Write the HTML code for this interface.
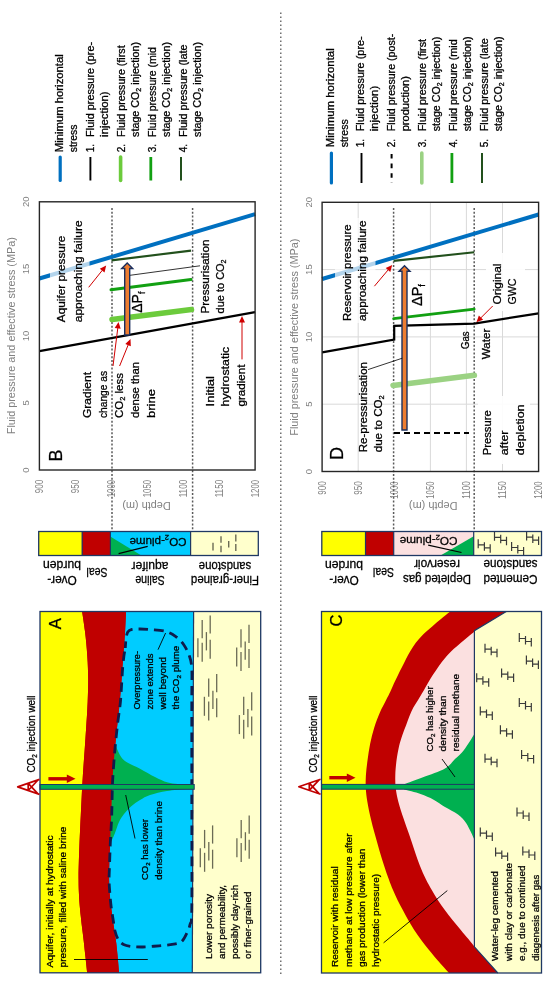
<!DOCTYPE html>
<html><head><meta charset="utf-8"><title>Fluid pressure figure</title>
<style>
html,body{margin:0;padding:0;background:#fff;}
body{width:550px;height:985px;overflow:hidden;}
svg{display:block;}
text{font-family:"Liberation Sans", "DejaVu Sans", sans-serif;stroke-width:0.28px;}
</style></head>
<body>
<svg width="550" height="985" viewBox="0 0 550 985">
<rect width="550" height="985" fill="#fff"/>
<line x1="280.8" y1="12.4" x2="280.8" y2="975.0" stroke="#5a5a5a" stroke-width="1.3" stroke-dasharray="1.6,2.4"/>
<line x1="60.2" y1="157.0" x2="60.2" y2="180.5" stroke="#0070C0" stroke-width="3.2" stroke-linecap="round"/>
<text transform="translate(62.5,152.2) rotate(-90)" font-size="10" fill="#000" stroke="#000" text-anchor="start" textLength="98.0" lengthAdjust="spacingAndGlyphs">Minimum horizontal</text>
<text transform="translate(76.7,152.2) rotate(-90)" font-size="10" fill="#000" stroke="#000" text-anchor="start" textLength="27.5" lengthAdjust="spacingAndGlyphs">stress</text>
<line x1="90.4" y1="157.0" x2="90.4" y2="180.5" stroke="#000" stroke-width="1.9"/>
<text transform="translate(93.6,152.2) rotate(-90)" font-size="10" fill="#000" stroke="#000" text-anchor="start">1.</text>
<text transform="translate(93.6,136.9) rotate(-90)" font-size="10" fill="#000" stroke="#000" text-anchor="start" textLength="95.0" lengthAdjust="spacingAndGlyphs">Fluid pressure (pre-</text>
<text transform="translate(107.8,136.9) rotate(-90)" font-size="10" fill="#000" stroke="#000" text-anchor="start" textLength="45.5" lengthAdjust="spacingAndGlyphs">injection)</text>
<line x1="120.6" y1="157.0" x2="120.6" y2="180.5" stroke="#6CCB3C" stroke-width="3.6" stroke-linecap="round"/>
<text transform="translate(124.7,152.2) rotate(-90)" font-size="10" fill="#000" stroke="#000" text-anchor="start">2.</text>
<text transform="translate(124.7,136.9) rotate(-90)" font-size="10" fill="#000" stroke="#000" text-anchor="start" textLength="91.5" lengthAdjust="spacingAndGlyphs">Fluid pressure (first</text>
<text transform="translate(138.9,136.9) rotate(-90)" font-size="10" fill="#000" stroke="#000" text-anchor="start" textLength="95.0" lengthAdjust="spacingAndGlyphs">stage CO<tspan font-size="6.5" dy="2.2">2</tspan><tspan dy="-2.2">​</tspan> injection)</text>
<line x1="150.8" y1="157.0" x2="150.8" y2="180.5" stroke="#12A012" stroke-width="2.8"/>
<text transform="translate(155.8,152.2) rotate(-90)" font-size="10" fill="#000" stroke="#000" text-anchor="start">3.</text>
<text transform="translate(155.8,136.9) rotate(-90)" font-size="10" fill="#000" stroke="#000" text-anchor="start" textLength="89.8" lengthAdjust="spacingAndGlyphs">Fluid pressure (mid</text>
<text transform="translate(170.0,136.9) rotate(-90)" font-size="10" fill="#000" stroke="#000" text-anchor="start" textLength="95.0" lengthAdjust="spacingAndGlyphs">stage CO<tspan font-size="6.5" dy="2.2">2</tspan><tspan dy="-2.2">​</tspan> injection)</text>
<line x1="181.0" y1="157.0" x2="181.0" y2="180.5" stroke="#22501C" stroke-width="2.0"/>
<text transform="translate(186.9,152.2) rotate(-90)" font-size="10" fill="#000" stroke="#000" text-anchor="start">4.</text>
<text transform="translate(186.9,136.9) rotate(-90)" font-size="10" fill="#000" stroke="#000" text-anchor="start" textLength="92.4" lengthAdjust="spacingAndGlyphs">Fluid pressure (late</text>
<text transform="translate(201.1,136.9) rotate(-90)" font-size="10" fill="#000" stroke="#000" text-anchor="start" textLength="95.0" lengthAdjust="spacingAndGlyphs">stage CO<tspan font-size="6.5" dy="2.2">2</tspan><tspan dy="-2.2">​</tspan> injection)</text>
<line x1="331.4" y1="153.0" x2="331.4" y2="183.0" stroke="#0070C0" stroke-width="3.2" stroke-linecap="round"/>
<text transform="translate(333.6,147.3) rotate(-90)" font-size="10" fill="#000" stroke="#000" text-anchor="start" textLength="99.0" lengthAdjust="spacingAndGlyphs">Minimum horizontal</text>
<text transform="translate(347.5,147.3) rotate(-90)" font-size="10" fill="#000" stroke="#000" text-anchor="start" textLength="28.0" lengthAdjust="spacingAndGlyphs">stress</text>
<line x1="361.5" y1="153.0" x2="361.5" y2="183.0" stroke="#000" stroke-width="1.9"/>
<text transform="translate(364.4,147.3) rotate(-90)" font-size="10" fill="#000" stroke="#000" text-anchor="start">1.</text>
<text transform="translate(364.4,131.3) rotate(-90)" font-size="10" fill="#000" stroke="#000" text-anchor="start" textLength="95.0" lengthAdjust="spacingAndGlyphs">Fluid pressure (pre-</text>
<text transform="translate(378.3,131.3) rotate(-90)" font-size="10" fill="#000" stroke="#000" text-anchor="start" textLength="45.5" lengthAdjust="spacingAndGlyphs">injection)</text>
<line x1="391.6" y1="154.0" x2="391.6" y2="183.0" stroke="#000" stroke-width="2" stroke-dasharray="4.6,5"/>
<text transform="translate(395.2,147.3) rotate(-90)" font-size="10" fill="#000" stroke="#000" text-anchor="start">2.</text>
<text transform="translate(395.2,131.3) rotate(-90)" font-size="10" fill="#000" stroke="#000" text-anchor="start" textLength="97.5" lengthAdjust="spacingAndGlyphs">Fluid pressure (post-</text>
<text transform="translate(409.1,131.3) rotate(-90)" font-size="10" fill="#000" stroke="#000" text-anchor="start" textLength="55.2" lengthAdjust="spacingAndGlyphs">production)</text>
<line x1="421.8" y1="153.0" x2="421.8" y2="183.0" stroke="#9BD283" stroke-width="3.6" stroke-linecap="round"/>
<text transform="translate(426.0,147.3) rotate(-90)" font-size="10" fill="#000" stroke="#000" text-anchor="start">3.</text>
<text transform="translate(426.0,131.3) rotate(-90)" font-size="10" fill="#000" stroke="#000" text-anchor="start" textLength="92.4" lengthAdjust="spacingAndGlyphs">Fluid pressure (first</text>
<text transform="translate(439.9,131.3) rotate(-90)" font-size="10" fill="#000" stroke="#000" text-anchor="start" textLength="94.5" lengthAdjust="spacingAndGlyphs">stage CO<tspan font-size="6.5" dy="2.2">2</tspan><tspan dy="-2.2">​</tspan> injection)</text>
<line x1="451.9" y1="153.0" x2="451.9" y2="183.0" stroke="#12A012" stroke-width="2.8"/>
<text transform="translate(456.8,147.3) rotate(-90)" font-size="10" fill="#000" stroke="#000" text-anchor="start">4.</text>
<text transform="translate(456.8,131.3) rotate(-90)" font-size="10" fill="#000" stroke="#000" text-anchor="start" textLength="92.0" lengthAdjust="spacingAndGlyphs">Fluid pressure (mid</text>
<text transform="translate(470.7,131.3) rotate(-90)" font-size="10" fill="#000" stroke="#000" text-anchor="start" textLength="94.8" lengthAdjust="spacingAndGlyphs">stage CO<tspan font-size="6.5" dy="2.2">2</tspan><tspan dy="-2.2">​</tspan> injection)</text>
<line x1="482.0" y1="153.0" x2="482.0" y2="183.0" stroke="#22501C" stroke-width="2.0"/>
<text transform="translate(487.6,147.3) rotate(-90)" font-size="10" fill="#000" stroke="#000" text-anchor="start">5.</text>
<text transform="translate(487.6,131.3) rotate(-90)" font-size="10" fill="#000" stroke="#000" text-anchor="start" textLength="93.0" lengthAdjust="spacingAndGlyphs">Fluid pressure (late</text>
<text transform="translate(501.5,131.3) rotate(-90)" font-size="10" fill="#000" stroke="#000" text-anchor="start" textLength="94.8" lengthAdjust="spacingAndGlyphs">stage CO<tspan font-size="6.5" dy="2.2">2</tspan><tspan dy="-2.2">​</tspan> injection)</text>
<text transform="translate(29.4,470.0) rotate(-90)" font-size="9.5" fill="#808080" text-anchor="middle">0</text>
<text transform="translate(29.4,402.9) rotate(-90)" font-size="9.5" fill="#808080" text-anchor="middle">5</text>
<text transform="translate(29.4,335.9) rotate(-90)" font-size="9.5" fill="#808080" text-anchor="middle">10</text>
<text transform="translate(29.4,268.9) rotate(-90)" font-size="9.5" fill="#808080" text-anchor="middle">15</text>
<text transform="translate(29.4,201.8) rotate(-90)" font-size="9.5" fill="#808080" text-anchor="middle">20</text>
<text transform="translate(43.0,479.8) rotate(-90)" font-size="10" fill="#808080" text-anchor="end" textLength="13.4" lengthAdjust="spacingAndGlyphs">900</text>
<text transform="translate(78.9,479.8) rotate(-90)" font-size="10" fill="#808080" text-anchor="end" textLength="13.4" lengthAdjust="spacingAndGlyphs">950</text>
<text transform="translate(114.9,479.8) rotate(-90)" font-size="10" fill="#808080" text-anchor="end" textLength="17.5" lengthAdjust="spacingAndGlyphs">1000</text>
<text transform="translate(150.8,479.8) rotate(-90)" font-size="10" fill="#808080" text-anchor="end" textLength="17.5" lengthAdjust="spacingAndGlyphs">1050</text>
<text transform="translate(186.8,479.8) rotate(-90)" font-size="10" fill="#808080" text-anchor="end" textLength="17.5" lengthAdjust="spacingAndGlyphs">1100</text>
<text transform="translate(222.8,479.8) rotate(-90)" font-size="10" fill="#808080" text-anchor="end" textLength="17.5" lengthAdjust="spacingAndGlyphs">1150</text>
<text transform="translate(258.7,479.8) rotate(-90)" font-size="10" fill="#808080" text-anchor="end" textLength="17.5" lengthAdjust="spacingAndGlyphs">1200</text>
<text transform="translate(15.4,434.2) rotate(-90)" font-size="11" fill="#808080" text-anchor="start" textLength="197.0" lengthAdjust="spacingAndGlyphs">Fluid pressure and effective stress (MPa)</text>
<line x1="112.0" y1="208.0" x2="112.0" y2="531.0" stroke="#5a5a5a" stroke-width="1.5" stroke-dasharray="2,1.8"/>
<line x1="192.6" y1="208.0" x2="192.6" y2="531.0" stroke="#5a5a5a" stroke-width="1.5" stroke-dasharray="2,1.8"/>
<line x1="39.4" y1="278.5" x2="255.1" y2="214.2" stroke="#0070C0" stroke-width="4"/>
<line x1="39.4" y1="351.1" x2="255.1" y2="312.1" stroke="#000" stroke-width="2.2"/>
<line x1="112.0" y1="319.6" x2="191.5" y2="309.6" stroke="#6CCB3C" stroke-width="5.5" stroke-linecap="round"/>
<line x1="111.0" y1="289.8" x2="191.0" y2="279.6" stroke="#12A012" stroke-width="3" stroke-linecap="round"/>
<line x1="111.5" y1="260.4" x2="191.0" y2="250.6" stroke="#22501C" stroke-width="2.1"/>
<line x1="130.0" y1="275.3" x2="200.0" y2="265.8" stroke="#000" stroke-width="0.8"/>
<polygon points="124.7,335.0 124.7,268.5 121.7,268.5 127.2,263.0 132.7,268.5 129.7,268.5 129.7,335.0" fill="#ED7D31" stroke="#1B2F5E" stroke-width="1.4" stroke-linejoin="miter"/>
<text transform="translate(142.2,312.8) rotate(-90)" font-size="14" fill="#000" stroke="#000" text-anchor="start">ΔP<tspan font-size="9.1" dy="3.1">f</tspan></text>
<rect x="50" y="214" width="39.5" height="110" fill="#fff" fill-opacity="0.7"/>
<text transform="translate(65.0,322.2) rotate(-90)" font-size="10.8" fill="#000" stroke="#000" text-anchor="start" textLength="86.6" lengthAdjust="spacingAndGlyphs">Aquifer pressure</text>
<text transform="translate(81.5,322.2) rotate(-90)" font-size="10.8" fill="#000" stroke="#000" text-anchor="start" textLength="101.8" lengthAdjust="spacingAndGlyphs">approaching failure</text>
<line x1="88.7" y1="287.3" x2="102.4" y2="270.2" stroke="#D00000" stroke-width="1.0"/>
<polygon points="106.2,265.5 104.5,272.4 99.8,268.7" fill="#D00000"/>
<text transform="translate(208.5,313.4) rotate(-90)" font-size="10.8" fill="#000" stroke="#000" text-anchor="start" textLength="73.8" lengthAdjust="spacingAndGlyphs">Pressurisation</text>
<text transform="translate(224.0,313.4) rotate(-90)" font-size="10.8" fill="#000" stroke="#000" text-anchor="start" textLength="54.0" lengthAdjust="spacingAndGlyphs">due to CO<tspan font-size="7.0" dy="2.4">2</tspan><tspan dy="-2.4">​</tspan></text>
<text transform="translate(91.0,418.0) rotate(-90)" font-size="10.8" fill="#000" stroke="#000" text-anchor="start" textLength="46.0" lengthAdjust="spacingAndGlyphs">Gradient</text>
<text transform="translate(107.0,418.0) rotate(-90)" font-size="10.8" fill="#000" stroke="#000" text-anchor="start" textLength="47.0" lengthAdjust="spacingAndGlyphs">change as</text>
<text transform="translate(123.0,418.0) rotate(-90)" font-size="10.8" fill="#000" stroke="#000" text-anchor="start" textLength="45.0" lengthAdjust="spacingAndGlyphs">CO<tspan font-size="7.0" dy="2.4">2</tspan><tspan dy="-2.4">​</tspan> less</text>
<text transform="translate(139.0,418.0) rotate(-90)" font-size="10.8" fill="#000" stroke="#000" text-anchor="start" textLength="56.0" lengthAdjust="spacingAndGlyphs">dense than</text>
<text transform="translate(155.0,418.0) rotate(-90)" font-size="10.8" fill="#000" stroke="#000" text-anchor="start" textLength="29.0" lengthAdjust="spacingAndGlyphs">brine</text>
<line x1="113.0" y1="366.0" x2="117.8" y2="328.0" stroke="#D00000" stroke-width="1.0"/>
<polygon points="118.5,322.0 120.7,328.8 114.7,328.1" fill="#D00000"/>
<line x1="119.6" y1="366.0" x2="128.3" y2="344.6" stroke="#D00000" stroke-width="1.0"/>
<polygon points="130.5,339.0 130.8,346.2 125.3,343.9" fill="#D00000"/>
<text transform="translate(213.5,406.5) rotate(-90)" font-size="10.8" fill="#000" stroke="#000" text-anchor="start" textLength="30.5" lengthAdjust="spacingAndGlyphs">Initial</text>
<text transform="translate(229.3,406.5) rotate(-90)" font-size="10.8" fill="#000" stroke="#000" text-anchor="start" textLength="59.8" lengthAdjust="spacingAndGlyphs">hydrostatic</text>
<text transform="translate(245.1,406.5) rotate(-90)" font-size="10.8" fill="#000" stroke="#000" text-anchor="start" textLength="42.0" lengthAdjust="spacingAndGlyphs">gradient</text>
<line x1="242.0" y1="359.4" x2="242.0" y2="322.0" stroke="#D00000" stroke-width="1.0"/>
<polygon points="242.0,316.0 245.0,322.5 239.0,322.5" fill="#D00000"/>
<rect x="39.4" y="201.8" width="215.7" height="268.2" fill="none" stroke="#262626" stroke-width="1.4"/>
<text transform="translate(62.3,461.5) rotate(-90)" font-size="18" fill="#000" stroke="#000" text-anchor="start">B</text>
<text transform="translate(146.5,502.3) rotate(180)" font-size="11" fill="#808080" text-anchor="middle" textLength="48.5" lengthAdjust="spacingAndGlyphs">Depth (m)</text>
<line x1="358.2" y1="202.3" x2="358.2" y2="471.5" stroke="#d9d9d9" stroke-width="1"/>
<line x1="430.4" y1="202.3" x2="430.4" y2="471.5" stroke="#d9d9d9" stroke-width="1"/>
<line x1="466.4" y1="202.3" x2="466.4" y2="471.5" stroke="#d9d9d9" stroke-width="1"/>
<line x1="502.5" y1="202.3" x2="502.5" y2="471.5" stroke="#d9d9d9" stroke-width="1"/>
<line x1="322.1" y1="404.2" x2="538.6" y2="404.2" stroke="#d9d9d9" stroke-width="1"/>
<line x1="322.1" y1="336.9" x2="538.6" y2="336.9" stroke="#d9d9d9" stroke-width="1"/>
<line x1="322.1" y1="269.6" x2="538.6" y2="269.6" stroke="#d9d9d9" stroke-width="1"/>
<text transform="translate(312.1,471.5) rotate(-90)" font-size="9.5" fill="#808080" text-anchor="middle">0</text>
<text transform="translate(312.1,404.2) rotate(-90)" font-size="9.5" fill="#808080" text-anchor="middle">5</text>
<text transform="translate(312.1,336.9) rotate(-90)" font-size="9.5" fill="#808080" text-anchor="middle">10</text>
<text transform="translate(312.1,269.6) rotate(-90)" font-size="9.5" fill="#808080" text-anchor="middle">15</text>
<text transform="translate(312.1,202.3) rotate(-90)" font-size="9.5" fill="#808080" text-anchor="middle">20</text>
<text transform="translate(325.7,481.3) rotate(-90)" font-size="10" fill="#808080" text-anchor="end" textLength="13.4" lengthAdjust="spacingAndGlyphs">900</text>
<text transform="translate(361.8,481.3) rotate(-90)" font-size="10" fill="#808080" text-anchor="end" textLength="13.4" lengthAdjust="spacingAndGlyphs">950</text>
<text transform="translate(397.9,481.3) rotate(-90)" font-size="10" fill="#808080" text-anchor="end" textLength="17.5" lengthAdjust="spacingAndGlyphs">1000</text>
<text transform="translate(434.0,481.3) rotate(-90)" font-size="10" fill="#808080" text-anchor="end" textLength="17.5" lengthAdjust="spacingAndGlyphs">1050</text>
<text transform="translate(470.0,481.3) rotate(-90)" font-size="10" fill="#808080" text-anchor="end" textLength="17.5" lengthAdjust="spacingAndGlyphs">1100</text>
<text transform="translate(506.1,481.3) rotate(-90)" font-size="10" fill="#808080" text-anchor="end" textLength="17.5" lengthAdjust="spacingAndGlyphs">1150</text>
<text transform="translate(542.2,481.3) rotate(-90)" font-size="10" fill="#808080" text-anchor="end" textLength="17.5" lengthAdjust="spacingAndGlyphs">1200</text>
<text transform="translate(298.1,435.7) rotate(-90)" font-size="11" fill="#808080" text-anchor="start" textLength="197.0" lengthAdjust="spacingAndGlyphs">Fluid pressure and effective stress (MPa)</text>
<rect x="486" y="253" width="39" height="58" fill="#fff" fill-opacity="0.92"/>
<rect x="478" y="396" width="52" height="68" fill="#fff" fill-opacity="0.92"/>
<line x1="393.6" y1="208.0" x2="393.6" y2="531.0" stroke="#5a5a5a" stroke-width="1.5" stroke-dasharray="2,1.8"/>
<line x1="474.2" y1="208.0" x2="474.2" y2="531.0" stroke="#5a5a5a" stroke-width="1.5" stroke-dasharray="2,1.8"/>
<line x1="322.1" y1="279.0" x2="538.6" y2="214.5" stroke="#0070C0" stroke-width="4"/>
<polyline points="322.1,352.3 394.2,339.5 394.2,325.8 474.2,323.6 538.6,313.3" fill="none" stroke="#000" stroke-width="2.2"/>
<line x1="394.0" y1="433.0" x2="469.0" y2="433.0" stroke="#000" stroke-width="2" stroke-dasharray="6,4"/>
<line x1="393.0" y1="385.5" x2="474.4" y2="375.3" stroke="#9BD283" stroke-width="5.5" stroke-linecap="round"/>
<line x1="393.6" y1="318.7" x2="474.2" y2="309.2" stroke="#12A012" stroke-width="2.7" stroke-linecap="round"/>
<line x1="393.6" y1="260.9" x2="474.2" y2="252.2" stroke="#22501C" stroke-width="2.1"/>
<polygon points="402.0,430.0 402.0,271.3 399.0,271.3 404.5,265.8 410.0,271.3 407.0,271.3 407.0,430.0" fill="#ED7D31" stroke="#1B2F5E" stroke-width="1.4" stroke-linejoin="miter"/>
<text transform="translate(421.8,306.0) rotate(-90)" font-size="14.5" fill="#000" stroke="#000" text-anchor="start">ΔP<tspan font-size="9.4" dy="3.2">f</tspan></text>
<rect x="335" y="218" width="40.5" height="105" fill="#fff" fill-opacity="0.7"/>
<text transform="translate(350.5,321.0) rotate(-90)" font-size="10.8" fill="#000" stroke="#000" text-anchor="start" textLength="96.6" lengthAdjust="spacingAndGlyphs">Reservoir pressure</text>
<text transform="translate(366.0,321.0) rotate(-90)" font-size="10.8" fill="#000" stroke="#000" text-anchor="start" textLength="100.5" lengthAdjust="spacingAndGlyphs">approaching failure</text>
<line x1="374.4" y1="286.2" x2="388.3" y2="269.7" stroke="#D00000" stroke-width="1.0"/>
<polygon points="392.2,265.1 390.3,272.0 385.7,268.1" fill="#D00000"/>
<text transform="translate(500.5,304.5) rotate(-90)" font-size="10.8" fill="#000" stroke="#000" text-anchor="start" textLength="41.0" lengthAdjust="spacingAndGlyphs">Original</text>
<text transform="translate(516.0,304.5) rotate(-90)" font-size="10.8" fill="#000" stroke="#000" text-anchor="start" textLength="26.0" lengthAdjust="spacingAndGlyphs">GWC</text>
<line x1="492.7" y1="306.0" x2="480.6" y2="318.1" stroke="#D00000" stroke-width="1.0"/>
<polygon points="476.4,322.3 478.9,315.6 483.1,319.8" fill="#D00000"/>
<text transform="translate(468.5,349.0) rotate(-90)" font-size="10.8" fill="#000" stroke="#000" text-anchor="start" textLength="17.4" lengthAdjust="spacingAndGlyphs">Gas</text>
<text transform="translate(490.4,359.3) rotate(-90)" font-size="10.8" fill="#000" stroke="#000" text-anchor="start" textLength="30.6" lengthAdjust="spacingAndGlyphs">Water</text>
<text transform="translate(366.5,452.3) rotate(-90)" font-size="10.8" fill="#000" stroke="#000" text-anchor="start" textLength="90.3" lengthAdjust="spacingAndGlyphs">Re-pressurisation</text>
<text transform="translate(382.0,452.3) rotate(-90)" font-size="10.8" fill="#000" stroke="#000" text-anchor="start" textLength="57.0" lengthAdjust="spacingAndGlyphs">due to CO<tspan font-size="7.0" dy="2.4">2</tspan><tspan dy="-2.4">​</tspan></text>
<line x1="368.0" y1="369.6" x2="402.3" y2="358.2" stroke="#000" stroke-width="0.8"/>
<text transform="translate(491.0,455.3) rotate(-90)" font-size="10.8" fill="#000" stroke="#000" text-anchor="start" textLength="45.0" lengthAdjust="spacingAndGlyphs">Pressure</text>
<text transform="translate(507.5,455.3) rotate(-90)" font-size="10.8" fill="#000" stroke="#000" text-anchor="start" textLength="24.8" lengthAdjust="spacingAndGlyphs">after</text>
<text transform="translate(524.0,455.3) rotate(-90)" font-size="10.8" fill="#000" stroke="#000" text-anchor="start" textLength="50.9" lengthAdjust="spacingAndGlyphs">depletion</text>
<rect x="322.1" y="202.3" width="216.5" height="269.2" fill="none" stroke="#262626" stroke-width="1.4"/>
<text transform="translate(342.5,460.0) rotate(-90)" font-size="18" fill="#000" stroke="#000" text-anchor="start">D</text>
<text transform="translate(433.2,502.3) rotate(180)" font-size="11" fill="#808080" text-anchor="middle" textLength="48.5" lengthAdjust="spacingAndGlyphs">Depth (m)</text>
<rect x="38.7" y="531.5" width="43.2" height="24" fill="#FFFF00"/>
<rect x="81.9" y="531.5" width="28.4" height="24" fill="#C00000"/>
<rect x="110.3" y="531.5" width="80.3" height="24" fill="#00CCFF"/>
<rect x="190.6" y="531.5" width="67.7" height="24" fill="#FFFFCC"/>
<polygon points="110.3,536.4 110.3,555.5 141.4,555.5" fill="#00B050"/>
<line x1="82.2" y1="531.5" x2="82.2" y2="555.5" stroke="#1F3864" stroke-width="1.2"/>
<line x1="110.4" y1="531.5" x2="110.4" y2="555.5" stroke="#1F3864" stroke-width="1.2"/>
<line x1="190.6" y1="531.5" x2="190.6" y2="555.5" stroke="#1F3864" stroke-width="1.2"/>
<line x1="213.0" y1="542.7" x2="213.0" y2="550.4" stroke="#6b6b55" stroke-width="1.4"/>
<line x1="221.0" y1="536.2" x2="221.0" y2="542.7" stroke="#6b6b55" stroke-width="1.4"/>
<line x1="221.0" y1="545.7" x2="221.0" y2="552.2" stroke="#6b6b55" stroke-width="1.4"/>
<line x1="228.7" y1="541.0" x2="228.7" y2="547.5" stroke="#6b6b55" stroke-width="1.4"/>
<line x1="235.8" y1="534.5" x2="235.8" y2="541.5" stroke="#6b6b55" stroke-width="1.4"/>
<line x1="235.8" y1="543.9" x2="235.8" y2="551.0" stroke="#6b6b55" stroke-width="1.4"/>
<rect x="38.7" y="531.5" width="219.6" height="24" fill="none" stroke="#1F3864" stroke-width="1.3"/>
<text transform="translate(158.0,537.5) rotate(180)" font-size="11.5" fill="#000" stroke="#000" text-anchor="middle" textLength="57.0" lengthAdjust="spacingAndGlyphs">CO<tspan font-size="7.5" dy="2.5">2</tspan><tspan dy="-2.5">​</tspan>-plume</text>
<line x1="118.6" y1="553.6" x2="147.7" y2="546.4" stroke="#000" stroke-width="1.1"/>
<text transform="translate(62.0,575.5) rotate(180)" font-size="12.5" fill="#000" stroke="#000" text-anchor="middle" textLength="29.5" lengthAdjust="spacingAndGlyphs">Over-</text>
<text transform="translate(62.0,561.0) rotate(180)" font-size="12.5" fill="#000" stroke="#000" text-anchor="middle" textLength="38.0" lengthAdjust="spacingAndGlyphs">burden</text>
<text transform="translate(97.0,568.0) rotate(180)" font-size="12.5" fill="#000" stroke="#000" text-anchor="middle" textLength="21.0" lengthAdjust="spacingAndGlyphs">Seal</text>
<text transform="translate(150.0,576.0) rotate(180)" font-size="12.5" fill="#000" stroke="#000" text-anchor="middle" textLength="29.5" lengthAdjust="spacingAndGlyphs">Saline</text>
<text transform="translate(150.0,561.5) rotate(180)" font-size="12.5" fill="#000" stroke="#000" text-anchor="middle" textLength="37.0" lengthAdjust="spacingAndGlyphs">aquifer</text>
<text transform="translate(225.0,576.0) rotate(180)" font-size="12.5" fill="#000" stroke="#000" text-anchor="middle" textLength="68.0" lengthAdjust="spacingAndGlyphs">Finer-grained</text>
<text transform="translate(225.0,561.5) rotate(180)" font-size="12.5" fill="#000" stroke="#000" text-anchor="middle" textLength="52.5" lengthAdjust="spacingAndGlyphs">sandstone</text>
<rect x="321.8" y="531.5" width="43.7" height="24" fill="#FFFF00"/>
<rect x="365.5" y="531.5" width="28.3" height="24" fill="#C00000"/>
<rect x="393.8" y="531.5" width="79.9" height="24" fill="#FBE0E0"/>
<rect x="473.7" y="531.5" width="67.8" height="24" fill="#FFFFCC"/>
<polygon points="473.7,536.3 473.7,555.5 440.5,555.5" fill="#00B050"/>
<line x1="365.5" y1="531.5" x2="365.5" y2="555.5" stroke="#1F3864" stroke-width="1.2"/>
<line x1="393.7" y1="531.5" x2="393.7" y2="555.5" stroke="#1F3864" stroke-width="1.2"/>
<line x1="473.7" y1="531.5" x2="473.7" y2="555.5" stroke="#1F3864" stroke-width="1.2"/>
<path d="M478.2,539.3v9 M478.2,544.8h6.2 M484.4,542.3v8.5 M484.4,547.8h5.8 M490.2,544.3v8.5" fill="none" stroke="#3a3a3a" stroke-width="1.2"/>
<path d="M494.5,531.8v9 M494.5,537.3h6.2 M500.7,534.8v8.5 M500.7,540.3h5.8 M506.5,536.8v8.5" fill="none" stroke="#3a3a3a" stroke-width="1.2"/>
<path d="M511.6,542.0v9 M511.6,547.5h6.2 M517.8,545.0v8.5 M517.8,550.5h5.8 M523.6,547.0v8.5" fill="none" stroke="#3a3a3a" stroke-width="1.2"/>
<path d="M526.6,531.6v9 M526.6,537.1h6.2 M532.8,534.6v8.5 M532.8,540.1h5.8 M538.6,536.6v8.5" fill="none" stroke="#3a3a3a" stroke-width="1.2"/>
<rect x="321.8" y="531.5" width="219.7" height="24" fill="none" stroke="#1F3864" stroke-width="1.3"/>
<text transform="translate(428.6,537.0) rotate(180)" font-size="11.5" fill="#000" stroke="#000" text-anchor="middle" textLength="58.0" lengthAdjust="spacingAndGlyphs">CO<tspan font-size="7.5" dy="2.5">2</tspan><tspan dy="-2.5">​</tspan>-plume</text>
<line x1="428.2" y1="545.1" x2="461.5" y2="552.5" stroke="#000" stroke-width="1.1"/>
<text transform="translate(344.0,575.5) rotate(180)" font-size="12.5" fill="#000" stroke="#000" text-anchor="middle" textLength="29.5" lengthAdjust="spacingAndGlyphs">Over-</text>
<text transform="translate(344.0,561.0) rotate(180)" font-size="12.5" fill="#000" stroke="#000" text-anchor="middle" textLength="38.0" lengthAdjust="spacingAndGlyphs">burden</text>
<text transform="translate(383.5,568.0) rotate(180)" font-size="12.5" fill="#000" stroke="#000" text-anchor="middle" textLength="21.0" lengthAdjust="spacingAndGlyphs">Seal</text>
<text transform="translate(437.0,574.5) rotate(180)" font-size="12.5" fill="#000" stroke="#000" text-anchor="middle" textLength="68.0" lengthAdjust="spacingAndGlyphs">Depleted gas</text>
<text transform="translate(437.0,560.0) rotate(180)" font-size="12.5" fill="#000" stroke="#000" text-anchor="middle" textLength="46.0" lengthAdjust="spacingAndGlyphs">reservoir</text>
<text transform="translate(510.5,574.5) rotate(180)" font-size="12.5" fill="#000" stroke="#000" text-anchor="middle" textLength="54.0" lengthAdjust="spacingAndGlyphs">Cemented</text>
<text transform="translate(510.5,560.0) rotate(180)" font-size="12.5" fill="#000" stroke="#000" text-anchor="middle" textLength="54.0" lengthAdjust="spacingAndGlyphs">sandstone</text>
<rect x="40" y="611.5" width="220.7" height="361.29999999999995" fill="#FFFF00"/>
<path d="M82.1,611.5 C82.6,614.9 84.2,624.7 85.1,632.1 C86.0,639.5 86.8,648.0 87.3,655.9 C87.9,663.8 88.1,671.9 88.2,679.5 C88.2,687.1 88.0,694.0 87.7,701.6 C87.4,709.3 86.9,717.3 86.3,725.5 C85.8,733.7 85.2,743.0 84.6,751.0 C84.0,758.9 83.5,766.3 83.0,773.2 C82.6,780.1 82.3,785.5 81.9,792.5 C81.6,799.5 81.2,807.2 80.8,815.2 C80.4,823.3 80.0,832.9 79.6,841.0 C79.3,849.0 79.0,857.0 78.8,863.5 C78.6,869.9 78.5,874.9 78.6,879.8 C78.6,884.7 78.7,888.4 78.9,892.7 C79.1,897.0 79.3,901.2 79.7,905.5 C80.0,909.7 80.5,914.0 81.0,918.2 C81.4,922.5 82.0,926.7 82.5,930.9 C83.1,935.2 83.5,939.3 84.0,943.6 C84.5,948.0 84.9,952.4 85.5,957.3 C86.0,962.2 86.9,970.2 87.2,972.8 L260.7,972.8 L260.7,611.5 Z" fill="#C00000"/>
<path d="M126.0,611.5 C125.9,614.4 125.5,623.6 125.2,628.9 C124.9,634.1 124.6,638.6 124.3,643.1 C124.0,647.6 123.6,651.6 123.3,655.9 C123.0,660.2 122.7,664.1 122.3,668.6 C122.0,673.2 121.8,677.7 121.3,683.4 C120.9,689.0 120.4,695.6 119.7,702.7 C119.0,709.8 118.0,718.0 117.2,726.0 C116.4,734.0 115.4,743.1 114.7,751.0 C114.0,758.8 113.4,766.3 112.9,773.2 C112.5,780.1 112.3,785.5 112.0,792.5 C111.7,799.5 111.5,807.2 111.2,815.2 C110.9,823.3 110.5,832.9 110.2,841.0 C109.9,849.0 109.5,857.0 109.3,863.5 C109.1,869.9 109.0,874.9 109.1,879.8 C109.1,884.7 109.3,888.4 109.6,892.7 C109.9,897.0 110.4,901.2 110.9,905.5 C111.4,909.7 112.0,914.0 112.6,918.2 C113.2,922.5 113.9,926.7 114.5,930.9 C115.1,935.2 115.8,939.3 116.3,943.6 C116.8,948.0 117.3,952.4 117.7,957.3 C118.2,962.2 118.8,970.2 119.0,972.8 L260.7,972.8 L260.7,611.5 Z" fill="#00CCFF"/>
<polygon points="193.6,611.5 260.7,611.5 260.7,972.8 192.3,972.8" fill="#FFFFCC"/>
<line x1="193.6" y1="611.5" x2="192.3" y2="972.8" stroke="#1F3864" stroke-width="1.2"/>
<path d="M115.5,745.5 C116.8,747.9 119.4,755.9 123.5,759.8 C127.6,763.7 134.8,765.8 140.0,768.7 C145.2,771.6 150.3,774.7 155.0,777.0 C159.7,779.3 162.8,781.2 168.0,782.5 C173.2,783.8 183.0,784.6 186.0,785.0 L186.0,789.0 C182.8,789.3 173.0,790.0 167.0,791.0 C161.0,792.0 154.5,793.5 150.0,795.0 C145.5,796.5 143.2,798.1 140.0,800.0 C136.8,801.9 133.7,804.2 131.0,806.5 C128.3,808.8 126.0,811.4 124.0,814.0 C122.0,816.6 120.5,818.8 119.0,822.0 C117.5,825.2 116.3,829.7 115.0,833.0 C113.7,836.3 111.7,840.5 111.0,842.0 L108,842 L108,742 Z" fill="#00B050"/>
<path d="M82.1,611.5 C82.6,614.9 84.2,624.7 85.1,632.1 C86.0,639.5 86.8,648.0 87.3,655.9 C87.9,663.8 88.1,671.9 88.2,679.5 C88.2,687.1 88.0,694.0 87.7,701.6 C87.4,709.3 86.9,717.3 86.3,725.5 C85.8,733.7 85.2,743.0 84.6,751.0 C84.0,758.9 83.5,766.3 83.0,773.2 C82.6,780.1 82.3,785.5 81.9,792.5 C81.6,799.5 81.2,807.2 80.8,815.2 C80.4,823.3 80.0,832.9 79.6,841.0 C79.3,849.0 79.0,857.0 78.8,863.5 C78.6,869.9 78.5,874.9 78.6,879.8 C78.6,884.7 78.7,888.4 78.9,892.7 C79.1,897.0 79.3,901.2 79.7,905.5 C80.0,909.7 80.5,914.0 81.0,918.2 C81.4,922.5 82.0,926.7 82.5,930.9 C83.1,935.2 83.5,939.3 84.0,943.6 C84.5,948.0 84.9,952.4 85.5,957.3 C86.0,962.2 86.9,970.2 87.2,972.8 L119.0,972.8 L117.7,957.3 L116.3,943.6 L114.5,930.9 L112.6,918.2 L110.9,905.5 L109.6,892.7 L109.1,879.8 L109.3,863.5 L110.2,841.0 L111.2,815.2 L112.0,792.5 L112.9,773.2 L114.7,751.0 L117.2,726.0 L119.7,702.7 L121.3,683.4 L122.3,668.6 L123.3,655.9 L124.3,643.1 L125.2,628.9 L126.0,611.5 Z" fill="#C00000"/>
<path d="M125.3,648.0 C125.4,646.5 125.6,641.7 126.0,639.0 C126.4,636.3 126.8,633.6 127.8,632.0 C128.8,630.4 130.0,629.9 132.0,629.4 C134.0,628.9 136.8,629.0 140.0,629.0 C143.2,629.0 146.7,629.3 151.0,629.7 C155.3,630.1 161.5,630.3 165.6,631.4 C169.7,632.5 172.5,634.1 175.5,636.3 C178.5,638.5 181.3,641.2 183.6,644.5 C185.9,647.8 188.0,651.9 189.4,656.0 C190.8,660.1 191.4,661.7 191.8,669.0 C192.2,676.3 191.8,678.2 191.8,700.0 C191.8,721.8 191.8,765.3 191.8,800.0 C191.8,834.7 192.1,887.2 191.8,908.0 C191.5,928.8 190.8,920.4 190.0,924.5 C189.2,928.6 188.3,929.9 187.0,932.7 C185.7,935.5 183.9,939.3 182.0,941.2 C180.1,943.1 179.3,943.1 175.5,943.9 C171.7,944.7 164.5,945.3 159.0,945.8 C153.5,946.3 147.3,946.9 142.7,947.0 C138.1,947.1 134.5,946.8 131.3,946.4 C128.1,946.0 125.6,945.6 123.5,944.5 C121.4,943.4 119.9,942.2 118.5,940.0 C117.1,937.8 115.9,934.6 115.0,931.0 C114.1,927.4 113.6,922.5 112.9,918.2 C112.2,914.0 111.5,909.8 111.0,905.5 C110.5,901.2 110.1,897.0 109.8,892.7 C109.5,888.5 109.1,884.4 109.1,880.0 C109.0,875.6 109.3,872.9 109.5,866.4 C109.7,859.9 110.0,849.5 110.4,841.0 C110.8,832.5 111.4,824.2 111.7,815.5 C112.0,806.8 112.1,795.5 112.3,789.0 C112.5,782.5 112.5,782.7 112.9,776.4 C113.3,770.1 114.0,759.5 114.8,751.0 C115.5,742.5 116.5,733.7 117.4,725.5 C118.3,717.3 119.7,709.4 120.4,702.0 C121.1,694.6 121.4,687.0 121.8,681.4 C122.2,675.8 122.2,672.8 122.6,668.6 C122.9,664.4 123.5,659.4 123.9,656.0 C124.4,652.6 125.1,649.3 125.3,648.0" fill="none" stroke="#101C4C" stroke-width="2.8" stroke-dasharray="9.5,6" stroke-dashoffset="3"/>
<line x1="197.9" y1="638.2" x2="197.9" y2="657.2" stroke="#6b6b55" stroke-width="1.3"/>
<line x1="202.2" y1="619.9" x2="202.2" y2="638.2" stroke="#6b6b55" stroke-width="1.3"/>
<line x1="202.2" y1="642.8" x2="202.2" y2="661.8" stroke="#6b6b55" stroke-width="1.3"/>
<line x1="206.4" y1="632.1" x2="206.4" y2="650.4" stroke="#6b6b55" stroke-width="1.3"/>
<line x1="210.2" y1="615.4" x2="210.2" y2="633.6" stroke="#6b6b55" stroke-width="1.3"/>
<line x1="210.2" y1="639.7" x2="210.2" y2="658.7" stroke="#6b6b55" stroke-width="1.3"/>
<line x1="236.7" y1="647.5" x2="236.7" y2="666.5" stroke="#6b6b55" stroke-width="1.3"/>
<line x1="241.0" y1="629.2" x2="241.0" y2="647.5" stroke="#6b6b55" stroke-width="1.3"/>
<line x1="241.0" y1="652.1" x2="241.0" y2="671.1" stroke="#6b6b55" stroke-width="1.3"/>
<line x1="245.2" y1="641.4" x2="245.2" y2="659.7" stroke="#6b6b55" stroke-width="1.3"/>
<line x1="249.0" y1="624.7" x2="249.0" y2="642.9" stroke="#6b6b55" stroke-width="1.3"/>
<line x1="249.0" y1="649.0" x2="249.0" y2="668.0" stroke="#6b6b55" stroke-width="1.3"/>
<line x1="204.4" y1="696.8" x2="204.4" y2="715.8" stroke="#6b6b55" stroke-width="1.3"/>
<line x1="208.7" y1="678.5" x2="208.7" y2="696.8" stroke="#6b6b55" stroke-width="1.3"/>
<line x1="208.7" y1="701.4" x2="208.7" y2="720.4" stroke="#6b6b55" stroke-width="1.3"/>
<line x1="212.9" y1="690.7" x2="212.9" y2="709.0" stroke="#6b6b55" stroke-width="1.3"/>
<line x1="216.7" y1="674.0" x2="216.7" y2="692.2" stroke="#6b6b55" stroke-width="1.3"/>
<line x1="216.7" y1="698.3" x2="216.7" y2="717.3" stroke="#6b6b55" stroke-width="1.3"/>
<line x1="239.4" y1="715.1" x2="239.4" y2="734.1" stroke="#6b6b55" stroke-width="1.3"/>
<line x1="243.7" y1="696.8" x2="243.7" y2="715.1" stroke="#6b6b55" stroke-width="1.3"/>
<line x1="243.7" y1="719.7" x2="243.7" y2="738.7" stroke="#6b6b55" stroke-width="1.3"/>
<line x1="247.9" y1="709.0" x2="247.9" y2="727.3" stroke="#6b6b55" stroke-width="1.3"/>
<line x1="251.7" y1="692.3" x2="251.7" y2="710.5" stroke="#6b6b55" stroke-width="1.3"/>
<line x1="251.7" y1="716.6" x2="251.7" y2="735.6" stroke="#6b6b55" stroke-width="1.3"/>
<line x1="200.3" y1="848.2" x2="200.3" y2="867.2" stroke="#6b6b55" stroke-width="1.3"/>
<line x1="204.6" y1="829.9" x2="204.6" y2="848.2" stroke="#6b6b55" stroke-width="1.3"/>
<line x1="204.6" y1="852.8" x2="204.6" y2="871.8" stroke="#6b6b55" stroke-width="1.3"/>
<line x1="208.8" y1="842.1" x2="208.8" y2="860.4" stroke="#6b6b55" stroke-width="1.3"/>
<line x1="212.6" y1="825.4" x2="212.6" y2="843.6" stroke="#6b6b55" stroke-width="1.3"/>
<line x1="212.6" y1="849.7" x2="212.6" y2="868.7" stroke="#6b6b55" stroke-width="1.3"/>
<line x1="236.9" y1="838.3" x2="236.9" y2="857.3" stroke="#6b6b55" stroke-width="1.3"/>
<line x1="241.2" y1="820.0" x2="241.2" y2="838.3" stroke="#6b6b55" stroke-width="1.3"/>
<line x1="241.2" y1="842.9" x2="241.2" y2="861.9" stroke="#6b6b55" stroke-width="1.3"/>
<line x1="245.4" y1="832.2" x2="245.4" y2="850.5" stroke="#6b6b55" stroke-width="1.3"/>
<line x1="249.2" y1="815.5" x2="249.2" y2="833.7" stroke="#6b6b55" stroke-width="1.3"/>
<line x1="249.2" y1="839.8" x2="249.2" y2="858.8" stroke="#6b6b55" stroke-width="1.3"/>
<rect x="40" y="784.5" width="154.2" height="4.8" fill="#00B050" stroke="#1F3864" stroke-width="1"/>
<rect x="40" y="611.5" width="220.7" height="361.29999999999995" fill="none" stroke="#1F3864" stroke-width="1.3"/>
<path d="M39.5,779.4 L17.7,786.9 L39.5,794.4 M28.2,783.3 L28.2,790.5 M28.2,783.3 L38.0,793.8 M28.2,790.5 L38.0,780.0" fill="none" stroke="#C00000" stroke-width="1.7" stroke-linejoin="round"/>
<line x1="48.4" y1="778.8" x2="67.3" y2="778.8" stroke="#C00000" stroke-width="3.4"/>
<polygon points="75.5,778.8 66.8,783.0 66.8,774.6" fill="#C00000"/>
<text transform="translate(35.0,772.6) rotate(-90)" font-size="10.5" fill="#000" stroke="#000" text-anchor="start" textLength="77.0" lengthAdjust="spacingAndGlyphs">CO<tspan font-size="6.8" dy="2.3">2</tspan><tspan dy="-2.3">​</tspan> injection well</text>
<text transform="translate(61.2,629.2) rotate(-90)" font-size="16.5" fill="#000" stroke="#000" text-anchor="start">A</text>
<text transform="translate(140.3,709.5) rotate(-90)" font-size="9.5" fill="#000" stroke="#000" text-anchor="start" textLength="58.5" lengthAdjust="spacingAndGlyphs">Overpressure-</text>
<text transform="translate(153.1,709.5) rotate(-90)" font-size="9.5" fill="#000" stroke="#000" text-anchor="start" textLength="56.0" lengthAdjust="spacingAndGlyphs">zone extends</text>
<text transform="translate(165.9,709.5) rotate(-90)" font-size="9.5" fill="#000" stroke="#000" text-anchor="start" textLength="52.5" lengthAdjust="spacingAndGlyphs">well beyond</text>
<text transform="translate(178.7,709.5) rotate(-90)" font-size="9.5" fill="#000" stroke="#000" text-anchor="start" textLength="63.7" lengthAdjust="spacingAndGlyphs">the CO<tspan font-size="6.2" dy="2.1">2</tspan><tspan dy="-2.1">​</tspan> plume</text>
<line x1="165.6" y1="633.0" x2="158.0" y2="649.7" stroke="#000" stroke-width="0.9"/>
<text transform="translate(148.0,880.0) rotate(-90)" font-size="9.5" fill="#000" stroke="#000" text-anchor="start" textLength="61.0" lengthAdjust="spacingAndGlyphs">CO<tspan font-size="6.2" dy="2.1">2</tspan><tspan dy="-2.1">​</tspan> has lower</text>
<text transform="translate(162.0,880.0) rotate(-90)" font-size="9.5" fill="#000" stroke="#000" text-anchor="start" textLength="79.0" lengthAdjust="spacingAndGlyphs">density than brine</text>
<line x1="125.7" y1="795.0" x2="135.0" y2="838.5" stroke="#000" stroke-width="0.9"/>
<text transform="translate(52.6,967.4) rotate(-90)" font-size="9.5" fill="#000" stroke="#000" text-anchor="start" textLength="132.0" lengthAdjust="spacingAndGlyphs">Aquifer, initially at hydrostatic</text>
<text transform="translate(66.1,967.4) rotate(-90)" font-size="9.5" fill="#000" stroke="#000" text-anchor="start" textLength="140.8" lengthAdjust="spacingAndGlyphs">pressure, filled with saline brine</text>
<line x1="74.0" y1="959.5" x2="147.8" y2="959.5" stroke="#000" stroke-width="0.9"/>
<text transform="translate(212.3,958.9) rotate(-90)" font-size="9.5" fill="#000" stroke="#000" text-anchor="start" textLength="65.0" lengthAdjust="spacingAndGlyphs">Lower porosity</text>
<text transform="translate(225.1,958.9) rotate(-90)" font-size="9.5" fill="#000" stroke="#000" text-anchor="start" textLength="74.0" lengthAdjust="spacingAndGlyphs">and permeability,</text>
<text transform="translate(237.8,958.9) rotate(-90)" font-size="9.5" fill="#000" stroke="#000" text-anchor="start" textLength="74.0" lengthAdjust="spacingAndGlyphs">possibly clay-rich</text>
<text transform="translate(250.6,958.9) rotate(-90)" font-size="9.5" fill="#000" stroke="#000" text-anchor="start" textLength="67.5" lengthAdjust="spacingAndGlyphs">or finer-grained</text>
<rect x="321.5" y="611.5" width="220.0" height="361.5" fill="#FFFF00"/>
<path d="M450.2,611.5 C448.8,612.7 444.6,616.1 441.6,618.6 C438.6,621.1 435.3,623.7 432.2,626.4 C429.1,629.0 425.8,631.8 423.1,634.5 C420.3,637.3 417.9,640.0 415.8,642.7 C413.7,645.5 412.0,648.2 410.4,651.0 C408.7,653.7 407.4,656.4 406.0,659.1 C404.6,661.9 403.3,664.6 401.9,667.3 C400.5,670.0 399.1,672.8 397.8,675.5 C396.5,678.2 395.2,680.9 393.9,683.6 C392.7,686.3 391.7,688.8 390.4,691.5 C389.1,694.3 387.7,696.8 386.0,700.3 C384.3,703.8 381.9,707.8 379.9,712.4 C378.0,716.9 375.8,722.4 374.2,727.7 C372.6,733.0 371.2,738.6 370.1,744.1 C369.0,749.6 368.2,755.3 367.5,760.5 C366.8,765.7 366.2,770.7 365.9,775.3 C365.7,779.9 365.5,783.6 365.8,788.1 C366.0,792.5 366.5,796.9 367.4,801.9 C368.2,806.8 369.4,812.4 370.6,817.7 C371.8,823.1 373.3,828.6 374.8,834.1 C376.3,839.6 377.9,845.2 379.4,850.5 C381.0,855.8 382.6,861.2 384.2,866.0 C385.7,870.8 387.3,875.2 388.8,879.2 C390.2,883.2 391.5,886.5 393.0,890.0 C394.5,893.5 395.9,896.7 397.5,900.0 C399.1,903.3 401.0,906.7 402.8,910.0 C404.5,913.3 406.3,916.7 408.2,920.0 C410.2,923.3 412.1,926.7 414.2,930.0 C416.4,933.3 418.8,936.7 421.2,940.0 C423.7,943.3 426.2,946.5 429.0,950.0 C431.8,953.5 434.7,956.9 438.0,960.8 C441.3,964.6 447.2,971.0 449.0,973.0 L541.5,973 L541.5,611.5 Z" fill="#C00000"/>
<path d="M474.5,631.5 C473.4,632.4 470.4,634.9 468.1,636.8 C465.8,638.6 463.3,640.7 460.9,642.7 C458.5,644.8 455.9,647.0 453.6,649.1 C451.3,651.2 449.2,653.4 447.2,655.5 C445.3,657.6 443.6,659.7 442.0,661.8 C440.3,663.9 438.9,666.1 437.4,668.2 C435.9,670.3 434.5,672.4 433.1,674.5 C431.7,676.6 430.4,678.8 429.1,680.9 C427.8,683.0 426.6,685.2 425.5,687.3 C424.3,689.4 423.2,691.5 421.9,693.6 C420.7,695.8 419.3,697.9 417.9,700.2 C416.4,702.6 414.6,705.1 413.2,707.8 C411.8,710.4 410.5,713.4 409.3,716.4 C408.1,719.4 407.1,722.5 406.0,725.6 C404.8,728.7 403.6,731.5 402.4,734.9 C401.3,738.3 400.1,741.7 399.1,745.9 C398.1,750.2 397.2,755.6 396.5,760.5 C395.9,765.4 395.4,770.7 395.3,775.3 C395.2,779.9 395.2,783.6 395.7,788.1 C396.2,792.5 397.1,796.9 398.4,801.9 C399.7,806.8 401.5,812.4 403.3,817.7 C405.1,823.1 407.1,828.6 409.0,834.1 C410.9,839.6 412.7,845.2 414.5,850.5 C416.3,855.8 418.1,861.2 420.0,866.0 C421.9,870.8 423.9,875.2 425.9,879.2 C427.9,883.2 429.8,886.5 431.8,890.0 C433.7,893.5 435.6,896.7 437.8,900.0 C439.9,903.3 442.3,906.7 444.8,910.0 C447.2,913.3 449.8,916.7 452.5,920.0 C455.2,923.3 458.1,926.8 460.8,930.0 C463.4,933.2 466.1,936.4 468.4,939.1 C470.6,941.9 473.4,945.3 474.4,946.5 Z" fill="#FBE0E0"/>
<path d="M474.4,734.0 C472.7,736.7 467.2,745.8 464.0,750.0 C460.8,754.2 458.2,755.9 455.0,759.0 C451.8,762.1 450.3,765.5 445.0,768.5 C439.7,771.5 429.8,774.7 423.0,777.3 C416.2,779.9 407.2,783.1 404.1,784.2 L404.1,789.6 C406.8,790.3 415.6,792.3 420.5,794.0 C425.4,795.7 429.5,797.5 433.6,799.7 C437.7,801.9 440.9,804.5 445.0,807.0 C449.1,809.5 454.4,811.7 458.0,814.5 C461.6,817.3 463.7,819.4 466.4,823.6 C469.1,827.8 473.1,836.9 474.4,839.5 Z" fill="#00B050"/>
<polygon points="474.4,630.7 506.3,611.5 541.5,611.5 541.5,973 497.8,973 474.4,946.8" fill="#FFFFCC"/>
<polyline points="506.3,611.5 474.4,630.7 474.4,946.8 497.8,973" fill="none" stroke="#1F3864" stroke-width="1.2"/>
<path d="M519.3,633.0v9 M519.3,638.5h6.2 M525.5,636.0v8.5 M525.5,641.5h5.8 M531.3,638.0v8.5" fill="none" stroke="#3a3a3a" stroke-width="1.2"/>
<path d="M485.0,643.7v9 M485.0,649.2h6.2 M491.2,646.7v8.5 M491.2,652.2h5.8 M497.0,648.7v8.5" fill="none" stroke="#3a3a3a" stroke-width="1.2"/>
<path d="M526.4,655.6v9 M526.4,661.1h6.2 M532.6,658.6v8.5 M532.6,664.1h5.8 M538.4,660.6v8.5" fill="none" stroke="#3a3a3a" stroke-width="1.2"/>
<path d="M501.6,668.6v9 M501.6,674.1h6.2 M507.8,671.6v8.5 M507.8,677.1h5.8 M513.6,673.6v8.5" fill="none" stroke="#3a3a3a" stroke-width="1.2"/>
<path d="M476.7,673.3v9 M476.7,678.8h6.2 M482.9,676.3v8.5 M482.9,681.8h5.8 M488.7,678.3v8.5" fill="none" stroke="#3a3a3a" stroke-width="1.2"/>
<path d="M519.3,698.0v9 M519.3,703.5h6.2 M525.5,701.0v8.5 M525.5,706.5h5.8 M531.3,703.0v8.5" fill="none" stroke="#3a3a3a" stroke-width="1.2"/>
<path d="M480.3,706.4v9 M480.3,711.9h6.2 M486.5,709.4v8.5 M486.5,714.9h5.8 M492.3,711.4v8.5" fill="none" stroke="#3a3a3a" stroke-width="1.2"/>
<path d="M500.4,725.3v9 M500.4,730.8h6.2 M506.6,728.3v8.5 M506.6,733.8h5.8 M512.4,730.3v8.5" fill="none" stroke="#3a3a3a" stroke-width="1.2"/>
<path d="M485.0,753.7v9 M485.0,759.2h6.2 M491.2,756.7v8.5 M491.2,762.2h5.8 M497.0,758.7v8.5" fill="none" stroke="#3a3a3a" stroke-width="1.2"/>
<path d="M521.6,750.0v9 M521.6,755.5h6.2 M527.8,753.0v8.5 M527.8,758.5h5.8 M533.6,755.0v8.5" fill="none" stroke="#3a3a3a" stroke-width="1.2"/>
<path d="M480.3,827.6v9 M480.3,833.1h6.2 M486.5,830.6v8.5 M486.5,836.1h5.8 M492.3,832.6v8.5" fill="none" stroke="#3a3a3a" stroke-width="1.2"/>
<path d="M517.0,807.5v9 M517.0,813.0h6.2 M523.2,810.5v8.5 M523.2,816.0h5.8 M529.0,812.5v8.5" fill="none" stroke="#3a3a3a" stroke-width="1.2"/>
<path d="M495.6,847.6v9 M495.6,853.1h6.2 M501.8,850.6v8.5 M501.8,856.1h5.8 M507.6,852.6v8.5" fill="none" stroke="#3a3a3a" stroke-width="1.2"/>
<path d="M522.8,846.5v9 M522.8,852.0h6.2 M529.0,849.5v8.5 M529.0,855.0h5.8 M534.8,851.5v8.5" fill="none" stroke="#3a3a3a" stroke-width="1.2"/>
<rect x="321.5" y="784.4" width="152.9" height="4.8" fill="#00B050" stroke="#1F3864" stroke-width="1"/>
<rect x="321.5" y="611.5" width="220.0" height="361.5" fill="none" stroke="#1F3864" stroke-width="1.3"/>
<path d="M320.6,779.3 L298.8,786.8 L320.6,794.3 M309.3,783.2 L309.3,790.4 M309.3,783.2 L319.1,793.7 M309.3,790.4 L319.1,779.9" fill="none" stroke="#C00000" stroke-width="1.7" stroke-linejoin="round"/>
<line x1="329.3" y1="777.7" x2="347.3" y2="777.7" stroke="#C00000" stroke-width="3.4"/>
<polygon points="355.5,777.7 346.8,781.9 346.8,773.5" fill="#C00000"/>
<text transform="translate(317.0,772.6) rotate(-90)" font-size="10.5" fill="#000" stroke="#000" text-anchor="start" textLength="77.0" lengthAdjust="spacingAndGlyphs">CO<tspan font-size="6.8" dy="2.3">2</tspan><tspan dy="-2.3">​</tspan> injection well</text>
<text transform="translate(341.6,626.5) rotate(-90)" font-size="16.5" fill="#000" stroke="#000" text-anchor="start">C</text>
<text transform="translate(433.0,751.4) rotate(-90)" font-size="9.5" fill="#000" stroke="#000" text-anchor="start" textLength="65.0" lengthAdjust="spacingAndGlyphs">CO<tspan font-size="6.2" dy="2.1">2</tspan><tspan dy="-2.1">​</tspan> has higher</text>
<text transform="translate(446.0,751.4) rotate(-90)" font-size="9.5" fill="#000" stroke="#000" text-anchor="start" textLength="56.0" lengthAdjust="spacingAndGlyphs">density than</text>
<text transform="translate(459.0,751.4) rotate(-90)" font-size="9.5" fill="#000" stroke="#000" text-anchor="start" textLength="77.6" lengthAdjust="spacingAndGlyphs">residual methane</text>
<line x1="442.0" y1="759.0" x2="455.0" y2="777.0" stroke="#000" stroke-width="0.9"/>
<text transform="translate(338.0,967.0) rotate(-90)" font-size="9.5" fill="#000" stroke="#000" text-anchor="start" textLength="100.6" lengthAdjust="spacingAndGlyphs">Reservoir with residual</text>
<text transform="translate(351.6,967.0) rotate(-90)" font-size="9.5" fill="#000" stroke="#000" text-anchor="start" textLength="133.6" lengthAdjust="spacingAndGlyphs">methane at low pressure after</text>
<text transform="translate(365.2,967.0) rotate(-90)" font-size="9.5" fill="#000" stroke="#000" text-anchor="start" textLength="118.4" lengthAdjust="spacingAndGlyphs">gas production (lower than</text>
<text transform="translate(378.8,967.0) rotate(-90)" font-size="9.5" fill="#000" stroke="#000" text-anchor="start" textLength="93.0" lengthAdjust="spacingAndGlyphs">hydrostatic pressure)</text>
<line x1="383.6" y1="942.8" x2="447.3" y2="890.6" stroke="#000" stroke-width="0.9"/>
<text transform="translate(498.0,961.0) rotate(-90)" font-size="9.5" fill="#000" stroke="#000" text-anchor="start" textLength="89.7" lengthAdjust="spacingAndGlyphs">Water-leg cemented</text>
<text transform="translate(511.5,961.0) rotate(-90)" font-size="9.5" fill="#000" stroke="#000" text-anchor="start" textLength="98.0" lengthAdjust="spacingAndGlyphs">with clay or carbonate</text>
<text transform="translate(525.0,961.0) rotate(-90)" font-size="9.5" fill="#000" stroke="#000" text-anchor="start" textLength="95.6" lengthAdjust="spacingAndGlyphs">e.g., due to continued</text>
<text transform="translate(538.5,961.0) rotate(-90)" font-size="9.5" fill="#000" stroke="#000" text-anchor="start" textLength="86.2" lengthAdjust="spacingAndGlyphs">diagenesis after gas</text>
</svg>
</body></html>
